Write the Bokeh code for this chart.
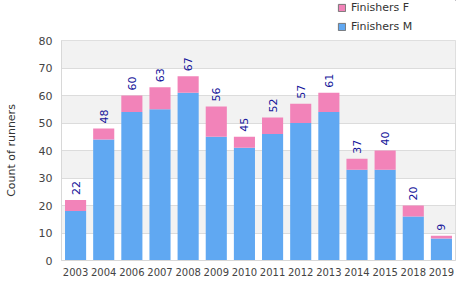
from bokeh.plotting import figure
from bokeh.layouts import column
from bokeh.models import ColumnDataSource, FactorRange, Range1d, SingleIntervalTicker, Legend, LegendItem
from bokeh.core.properties import value
from bokeh.embed import file_html
from bokeh.resources import INLINE
import math

years = ["2003", "2004", "2006", "2007", "2008", "2009", "2010", "2011", "2012", "2013", "2014", "2015", "2018", "2019"]
finishers_m = [18, 44, 54, 55, 61, 45, 41, 46, 50, 54, 33, 33, 16, 8]
finishers_f = [4, 4, 6, 8, 6, 11, 4, 6, 7, 7, 4, 7, 4, 1]
totals = [m + f for m, f in zip(finishers_m, finishers_f)]
series_names = ["Finishers F", "Finishers M"]

BLUE = "#60a8f2"
PINK = "#f283b9"
FONT = "DejaVu Sans"

source = ColumnDataSource(dict(year=years, m=finishers_m, f=finishers_f, total=totals,
                               label=[str(t) for t in totals]))

# ---- legend strip on top ----
top = figure(width=462, height=34, x_range=Range1d(0, 1), y_range=Range1d(0, 1),
             x_axis_type=None, y_axis_type=None, output_backend="svg", toolbar_location=None,
             min_border=0)
top.outline_line_color = None
top.xgrid.visible = False
top.ygrid.visible = False
# legend-only renderers, their single point lies outside the visible range
rf = top.vbar(x=[5], top=[5], bottom=[4], width=0.5, fill_color=PINK, line_color="#777777")
rm = top.vbar(x=[5], top=[5], bottom=[4], width=0.5, fill_color=BLUE, line_color="#777777")
legend = Legend(items=[LegendItem(label=series_names[0], renderers=[rf]),
                       LegendItem(label=series_names[1], renderers=[rm])],
                location=(276, 1), padding=0, margin=0, spacing=6,
                glyph_width=9, glyph_height=9, label_standoff=5, label_height=9,
                label_text_font=FONT, label_text_font_size="11px", label_text_color="#333333",
                border_line_alpha=0, background_fill_alpha=0)
top.add_layout(legend, "center")

# ---- main chart ----
p = figure(width=462, height=266, x_range=FactorRange(*years, range_padding=0),
           y_range=Range1d(0, 80), output_backend="svg", toolbar_location=None,
           min_border_left=61, min_border_right=7, min_border_top=6, min_border_bottom=40)

p.vbar_stack(["m", "f"], x="year", width=0.75, color=[BLUE, PINK], source=source, line_width=0)

p.text(x="year", y="total", text="label", source=source, angle=math.pi / 2,
       text_align="left", text_baseline="middle", y_offset=-5,
       text_color="#14149a", text_font=value(FONT), text_font_size="11px")

p.yaxis.ticker = SingleIntervalTicker(interval=10)
p.ygrid.ticker = SingleIntervalTicker(interval=10)
p.ygrid.grid_line_color = "#dcdcdc"
p.ygrid.band_fill_color = "#f2f2f2"
p.ygrid.band_fill_alpha = 1
p.xgrid.grid_line_color = None

p.outline_line_color = "#d8d8d8"
for ax in (p.xaxis, p.yaxis):
    ax.axis_line_color = "#d8d8d8"
    ax.major_tick_line_color = None
    ax.minor_tick_line_color = None
    ax.major_tick_out = 0
    ax.major_tick_in = 0
    ax.minor_tick_out = 0
    ax.major_label_text_font = FONT
    ax.major_label_text_color = "#444444"
p.yaxis.major_label_text_font_size = "11px"
p.xaxis.major_label_text_font_size = "10px"
p.xaxis.major_label_standoff = 7
p.yaxis.major_label_standoff = 9

p.yaxis.axis_label = "Count of runners"
p.yaxis.axis_label_text_font = FONT
p.yaxis.axis_label_text_font_style = "normal"
p.yaxis.axis_label_text_font_size = "11px"
p.yaxis.axis_label_text_color = "#333333"
p.yaxis.axis_label_standoff = 18

open("out.html", "w").write(file_html(column(top, p, spacing=0), INLINE))
